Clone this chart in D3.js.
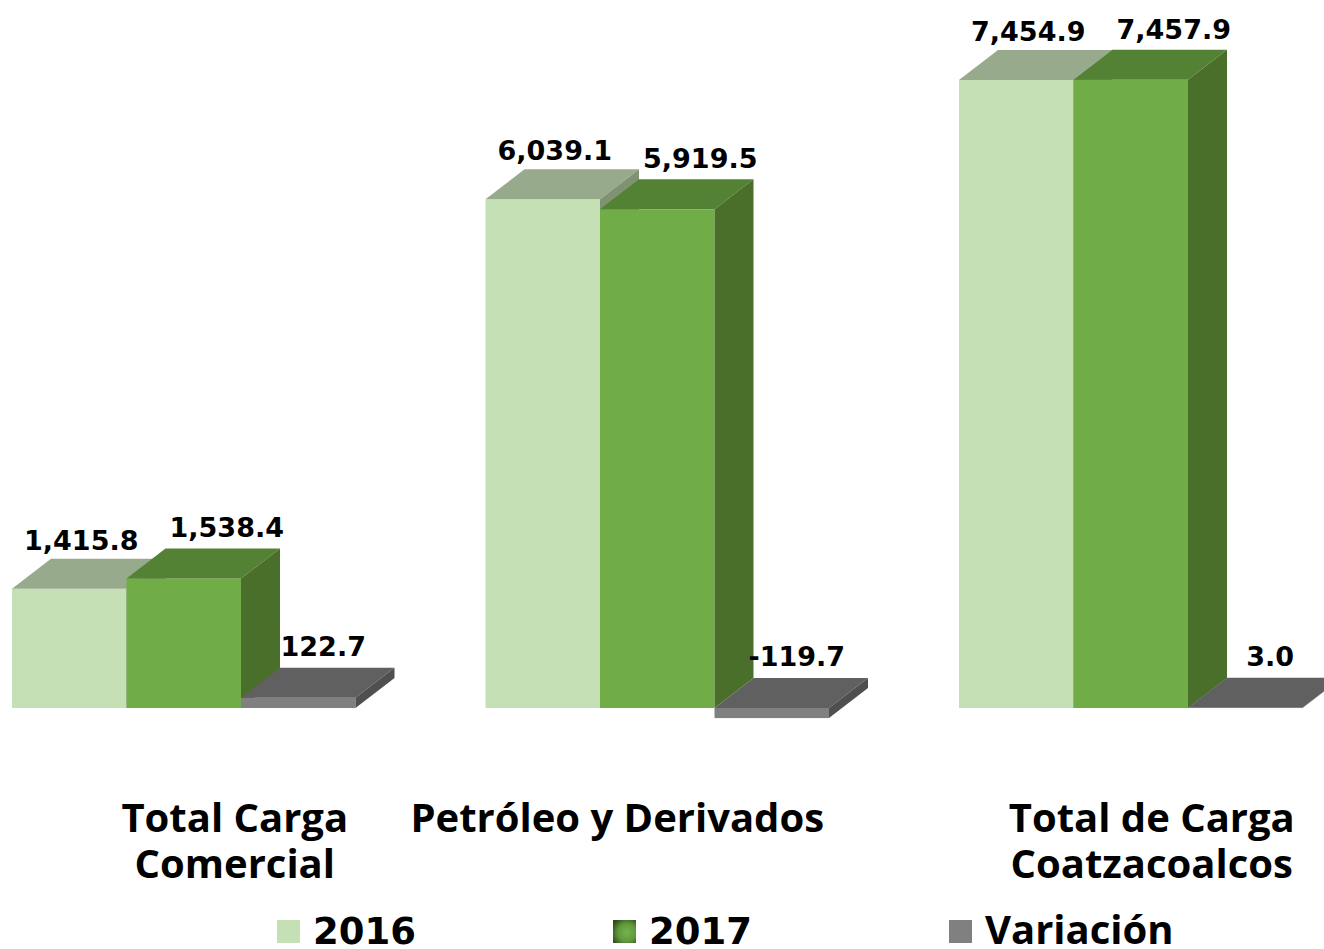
<!DOCTYPE html>
<html><head><meta charset="utf-8">
<script src="https://cdn.jsdelivr.net/npm/d3@7"></script>
<style>body{margin:0;background:#fff}svg{display:block}</style>
</head><body>
<svg id="c" width="1324" height="949"></svg>
<script>
const categories = [["Total Carga","Comercial"],["Petróleo y Derivados"],["Total de Carga","Coatzacoalcos"]];
const seriesNames = ["2016","2017","Variación"];
const values2016 = [1415.8, 6039.1, 7454.9];
const values2017 = [1538.4, 5919.5, 7457.9];
const valuesVar = [122.7, -119.7, 3.0];
const seriesValues = [values2016, values2017, valuesVar];

const W = 1324, H = 949;
const svg = d3.select("#c");
const defs = svg.append("defs");
const rg = defs.append("radialGradient").attr("id","g17").attr("cx","0.6").attr("cy","0.55").attr("r","0.7");
rg.append("stop").attr("offset","0").attr("stop-color","#76b44a");
rg.append("stop").attr("offset","0.55").attr("stop-color","#62993c");
rg.append("stop").attr("offset","1").attr("stop-color","#2f4d1c");

const colors = [
  {front:"#c5e0b4", top:"#97ab8c", side:"#7f9373"},
  {front:"#70ad47", top:"#548235", side:"#4a6f2b"},
  {front:"#808080", top:"#606060", side:"#4f4f4f"}
];
const DX = 39, DY = -30;

const catKeys = categories.map((c,i)=>"c"+i);
const x0 = d3.scaleBand().domain(catKeys).range([12, 12 + 3*473.5]).padding(0);
const x1 = d3.scaleBand().domain(seriesNames).range([0, 343.5]).padding(0);
const y = d3.scaleLinear().domain([0, 7500]).range([708, 76.2]);

const labelDX = [12, 43, 25];
const labelDY = [9, 11, 12];
const catLabelShift = [51, -40, 21];

const fmt = d3.format(",.1f");
const wordFont = "'Open Sans'";

catKeys.forEach((ck, ci) => {
  const g = svg.append("g");
  seriesNames.forEach((s, si) => {
    const v = seriesValues[si][ci];
    const xl = x0(ck) + x1(s), bw = x1.bandwidth();
    const yt = y(Math.max(0, v)), yb = y(Math.min(0, v));
    const c = colors[si];
    g.append("rect").attr("x", xl).attr("y", yt).attr("width", bw).attr("height", Math.max(0.3, yb - yt)).attr("fill", c.front);
    g.append("path").attr("d", `M${xl},${yt}L${xl+bw},${yt}L${xl+bw+DX},${yt+DY}L${xl+DX},${yt+DY}Z`).attr("fill", c.top);
    g.append("path").attr("d", `M${xl+bw},${yt}L${xl+bw+DX},${yt+DY}L${xl+bw+DX},${yb+DY}L${xl+bw},${yb}Z`).attr("fill", c.side);
  });
  seriesNames.forEach((s, si) => {
    const v = seriesValues[si][ci];
    const xl = x0(ck) + x1(s), bw = x1.bandwidth();
    const yt = y(Math.max(0, v));
    svg.append("text").attr("x", xl + bw/2 + labelDX[si]).attr("y", yt + DY - labelDY[si])
      .attr("text-anchor","middle").attr("font-family","DejaVu Sans").attr("font-weight","bold")
      .attr("font-size", 27).attr("fill","#000").text(v < 0 ? "-" + fmt(-v) : fmt(v));
  });
  const cx = x0(ck) + 171.75 + catLabelShift[ci];
  const t = svg.append("text").attr("text-anchor","middle").attr("font-family",wordFont).attr("font-weight","bold")
    .attr("font-size", 40).attr("fill","#000");
  categories[ci].forEach((line, li) => {
    t.append("tspan").attr("x", cx).attr("y", 832 + li*46).text(line);
  });
});

// legend
const legX = [277, 613, 949];
const legFill = [colors[0].front, "url(#g17)", colors[2].front];
seriesNames.forEach((s, i) => {
  svg.append("rect").attr("x", legX[i]).attr("y", 920).attr("width", 23).attr("height", 23).attr("fill", legFill[i]);
  const isNum = /^\d+$/.test(s);
  svg.append("text").attr("x", legX[i] + 36).attr("y", 944)
    .attr("font-family", isNum ? "DejaVu Sans" : wordFont).attr("font-weight","bold")
    .attr("font-size", isNum ? 37 : 40).attr("fill","#000").text(s);
});
</script>
</body></html>
